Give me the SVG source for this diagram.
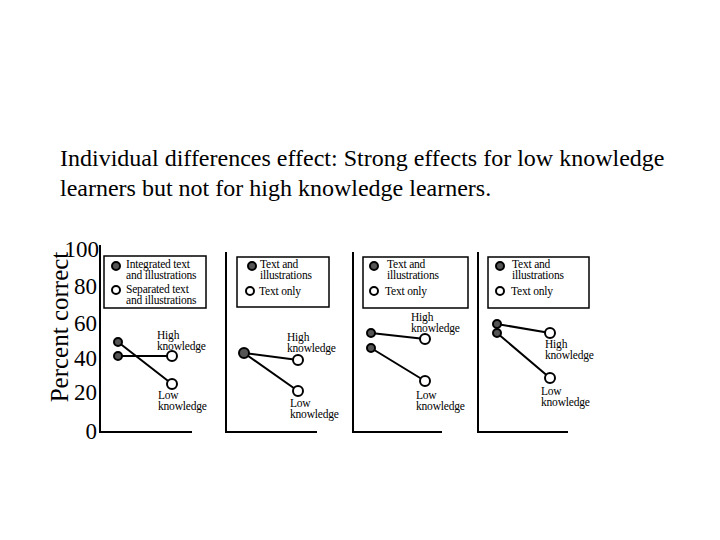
<svg xmlns="http://www.w3.org/2000/svg" width="720" height="540" viewBox="0 0 720 540">
<style>
text{font-family:'Liberation Serif','Times New Roman',serif;fill:#000}
.t{font-size:24px}.ax{font-size:23px}.yl{font-size:25px}.s{font-size:11.5px;letter-spacing:-0.2px}
.l{stroke:#000;stroke-width:2;fill:none}
.f{fill:#555;stroke:#000;stroke-width:2}
.o{fill:#fff;stroke:#000;stroke-width:2}
.b{fill:#fff;stroke:#000;stroke-width:1.5}
</style>
<rect width="720" height="540" fill="#fff"/>
<g id="title">
<text class="t" x="60" y="166">Individual differences effect: Strong effects for low knowledge</text>
<text class="t" x="60" y="196">learners but not for high knowledge learners.</text>
</g>
<g id="yaxis">
<text class="yl" x="68" y="327" text-anchor="middle" transform="rotate(-90 68 327)">Percent correct</text>
<g text-anchor="end">
<text class="ax" x="99" y="257">100</text>
<text class="ax" x="97" y="294">80</text>
<text class="ax" x="97" y="331">60</text>
<text class="ax" x="97" y="366">40</text>
<text class="ax" x="97" y="400">20</text>
<text class="ax" x="97" y="439">0</text>
</g>
</g>
<g id="connectors">
<path class="l" d="M100 245V432H192M226 252V432H317M353 252V432H442M478 252V432H568"/>
<path class="l" d="M118 342L172 384M118 356H172"/>
<path class="l" d="M244 353L298 360M244 353L298 391"/>
<path class="l" d="M371 333L425 339M371 348L425 381"/>
<path class="l" d="M497 324L550 333M497 333L550 378"/>
</g>
<g id="panel1">
<rect class="b" x="104" y="256" width="102" height="52"/>
<circle class="f" cx="116" cy="266" r="4"/><circle class="o" cx="116" cy="290" r="4"/>
<text class="s" x="126" y="268">Integrated text</text><text class="s" x="126" y="279">and illustrations</text>
<text class="s" x="126" y="293">Separated text</text><text class="s" x="126" y="304">and illustrations</text>
<circle class="f" cx="118" cy="342" r="4"/><circle class="f" cx="118" cy="356" r="4"/>
<circle class="o" cx="172" cy="356" r="5"/><circle class="o" cx="172" cy="384" r="5"/>
<text class="s" x="157" y="339">High</text><text class="s" x="157" y="350">knowledge</text>
<text class="s" x="158" y="399">Low</text><text class="s" x="158" y="410">knowledge</text>
</g>
<g id="panel2">
<rect class="b" x="237" y="257" width="92" height="50"/>
<circle class="f" cx="252" cy="266" r="4"/><circle class="o" cx="250" cy="291" r="4"/>
<text class="s" x="260" y="268">Text and</text><text class="s" x="260" y="279">illustrations</text>
<text class="s" x="259" y="295">Text only</text>
<circle class="f" cx="244" cy="353" r="5"/>
<circle class="o" cx="298" cy="360" r="5"/><circle class="o" cx="298" cy="391" r="5"/>
<text class="s" x="287" y="341">High</text><text class="s" x="287" y="352">knowledge</text>
<text class="s" x="290" y="407">Low</text><text class="s" x="290" y="418">knowledge</text>
</g>
<g id="panel3">
<rect class="b" x="363" y="257" width="105" height="51"/>
<circle class="f" cx="374" cy="266" r="4"/><circle class="o" cx="374" cy="291" r="4"/>
<text class="s" x="387" y="268">Text and</text><text class="s" x="387" y="279">illustrations</text>
<text class="s" x="385" y="295">Text only</text>
<circle class="f" cx="371" cy="333" r="4"/><circle class="f" cx="371" cy="348" r="4"/>
<circle class="o" cx="425" cy="339" r="5"/><circle class="o" cx="425" cy="381" r="5"/>
<text class="s" x="411" y="321">High</text><text class="s" x="411" y="332">knowledge</text>
<text class="s" x="416" y="399">Low</text><text class="s" x="416" y="410">knowledge</text>
</g>
<g id="panel4">
<rect class="b" x="488" y="257" width="101" height="51"/>
<circle class="f" cx="500" cy="266" r="4"/><circle class="o" cx="500" cy="291" r="4"/>
<text class="s" x="512" y="268">Text and</text><text class="s" x="512" y="279">illustrations</text>
<text class="s" x="511" y="295">Text only</text>
<circle class="f" cx="497" cy="324" r="4"/><circle class="f" cx="497" cy="333" r="4"/>
<circle class="o" cx="550" cy="333" r="5"/><circle class="o" cx="550" cy="378" r="5"/>
<text class="s" x="545" y="348">High</text><text class="s" x="545" y="359">knowledge</text>
<text class="s" x="541" y="395">Low</text><text class="s" x="541" y="406">knowledge</text>
</g>
</svg>
